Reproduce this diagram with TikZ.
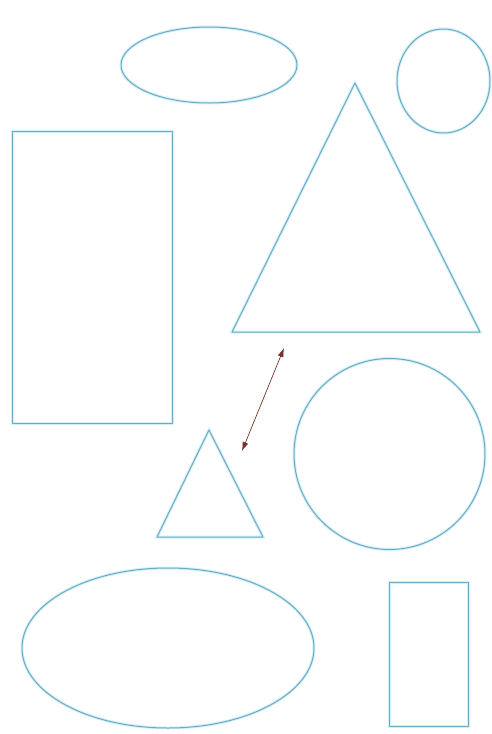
\documentclass[tikz,border=0pt]{standalone}
\usetikzlibrary{arrows.meta}
\definecolor{shapeline}{RGB}{110,170,198}
\definecolor{shapeglow}{RGB}{210,240,248}
\definecolor{arrowred}{RGB}{120,50,44}
\tikzset{
  shp/.style={draw=shapeline, line width=1.0pt, line join=round,
    preaction={draw=shapeglow, line width=3.0pt}},
  dbl/.style={draw=arrowred, line width=0.7pt, {Latex[length=9pt,width=6pt]}-{Latex[length=9pt,width=6pt]}}
}
\begin{document}
\begin{tikzpicture}[x=1pt,y=-1pt]
\useasboundingbox[fill=white] (0,0) rectangle (491,734);
% top ellipse
\draw[shp] (209,65) ellipse [x radius=88, y radius=38];
% top right circle
\draw[shp] (443.5,81) ellipse [x radius=46.5, y radius=52];
% left rectangle
\draw[shp] (12,131) rectangle (172,423);
% big triangle
\draw[shp] (355,83) -- (480,332) -- (232,332) -- cycle;
% middle circle
\draw[shp] (389.5,454) circle [radius=95.5];
% small triangle
\draw[shp] (209,430) -- (263,537) -- (157,537) -- cycle;
% bottom ellipse
\draw[shp] (168,648) ellipse [x radius=146, y radius=80];
% bottom right rectangle
\draw[shp] (389,582) rectangle (468,726);
% double arrow
\coordinate (aup) at (284,348);
\coordinate (adown) at (242,451);
\draw[dbl] (adown) -- (aup);
\end{tikzpicture}
\end{document}
